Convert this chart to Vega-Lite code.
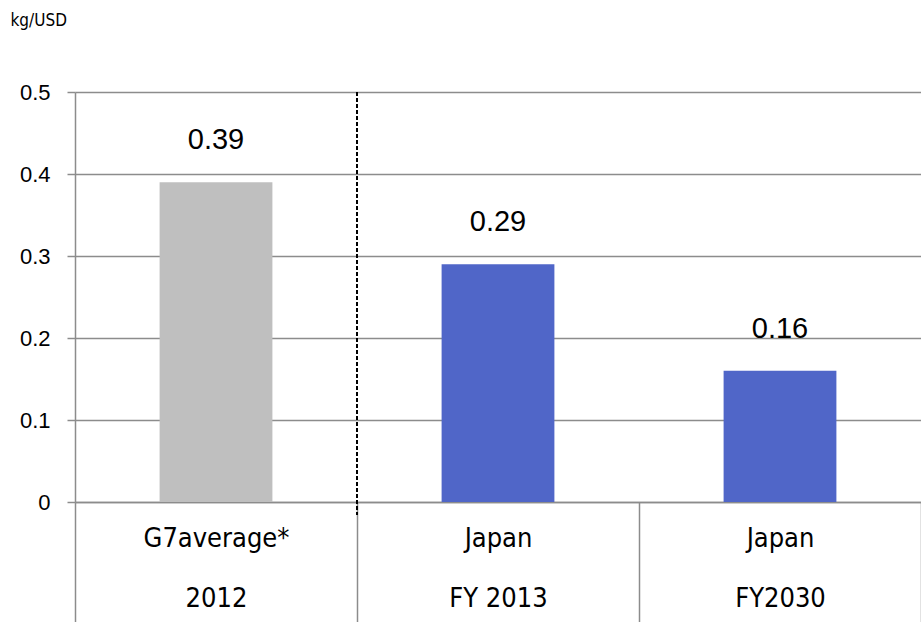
{
  "$schema": "https://vega.github.io/schema/vega-lite/v6.json",
  "width": 846,
  "height": 410,
  "autosize": "none",
  "padding": {"left": 75, "top": 92, "right": 0, "bottom": 120},
  "background": "white",
  "config": {"view": {"stroke": null}, "font": "Liberation Sans"},
  "data": {"values": [
    {"cat": "G7average*|2012", "value": 0.39, "group": "G7"},
    {"cat": "Japan|FY 2013", "value": 0.29, "group": "Japan"},
    {"cat": "Japan|FY2030", "value": 0.16, "group": "Japan"}
  ]},
  "encoding": {
    "x": {
      "field": "cat", "type": "nominal", "sort": null,
      "scale": {"paddingInner": 0, "paddingOuter": 0},
      "axis": {
        "title": null, "labelAngle": 0,
        "labelExpr": "split(datum.label, '|')",
        "labelFont": "'DejaVu Sans Condensed', 'Liberation Sans', sans-serif", "labelFontSize": 27, "labelLineHeight": 60,
        "labelBaseline": "top", "labelPadding": -97, "labelColor": "black",
        "tickBand": "extent", "tickSize": 120, "tickColor": "#8c8c8c", "tickWidth": 1.5,
        "domainColor": "#8c8c8c", "domainWidth": 1.5
      }
    },
    "y": {
      "field": "value", "type": "quantitative",
      "scale": {"domain": [0, 0.5], "nice": false},
      "axis": {
        "values": [0, 0.1, 0.2, 0.3, 0.4, 0.5],
        "labelExpr": "datum.value == 0 ? '0' : format(datum.value, '.1f')",
        "labelFontSize": 22, "labelPadding": 17, "labelColor": "black",
        "tickSize": 8, "tickColor": "#8c8c8c", "tickWidth": 1.5,
        "domainColor": "#8c8c8c", "domainWidth": 1.5,
        "gridColor": "#8c8c8c", "gridWidth": 1.5,
        "title": "kg/USD", "titleAngle": 0, "titleAlign": "left", "titleBaseline": "middle",
        "titleX": -65, "titleY": -72, "titleFont": "'DejaVu Sans Condensed', 'Liberation Sans', sans-serif",
        "titleFontSize": 17, "titleFontWeight": "normal", "titleColor": "black"
      }
    }
  },
  "layer": [
    {
      "mark": {"type": "bar", "width": {"band": 0.4}},
      "encoding": {
        "color": {"field": "group", "type": "nominal",
          "scale": {"domain": ["G7", "Japan"], "range": ["#bfbfbf", "#5066c8"]},
          "legend": null}
      }
    },
    {
      "mark": {"type": "text", "dy": -42, "fontSize": 29, "baseline": "middle", "color": "black"},
      "encoding": {"text": {"field": "value", "type": "quantitative", "format": ".2f"}}
    },
    {
      "data": {"values": [{"cat": "Japan|FY 2013", "top": 0.5, "bottom": -0.016}]},
      "mark": {"type": "rule", "strokeDash": [4, 2], "strokeWidth": 2, "color": "black", "clip": false},
      "encoding": {
        "x": {"field": "cat", "type": "nominal", "bandPosition": 0},
        "y": {"field": "top", "type": "quantitative"},
        "y2": {"field": "bottom"}
      }
    }
  ]
}
